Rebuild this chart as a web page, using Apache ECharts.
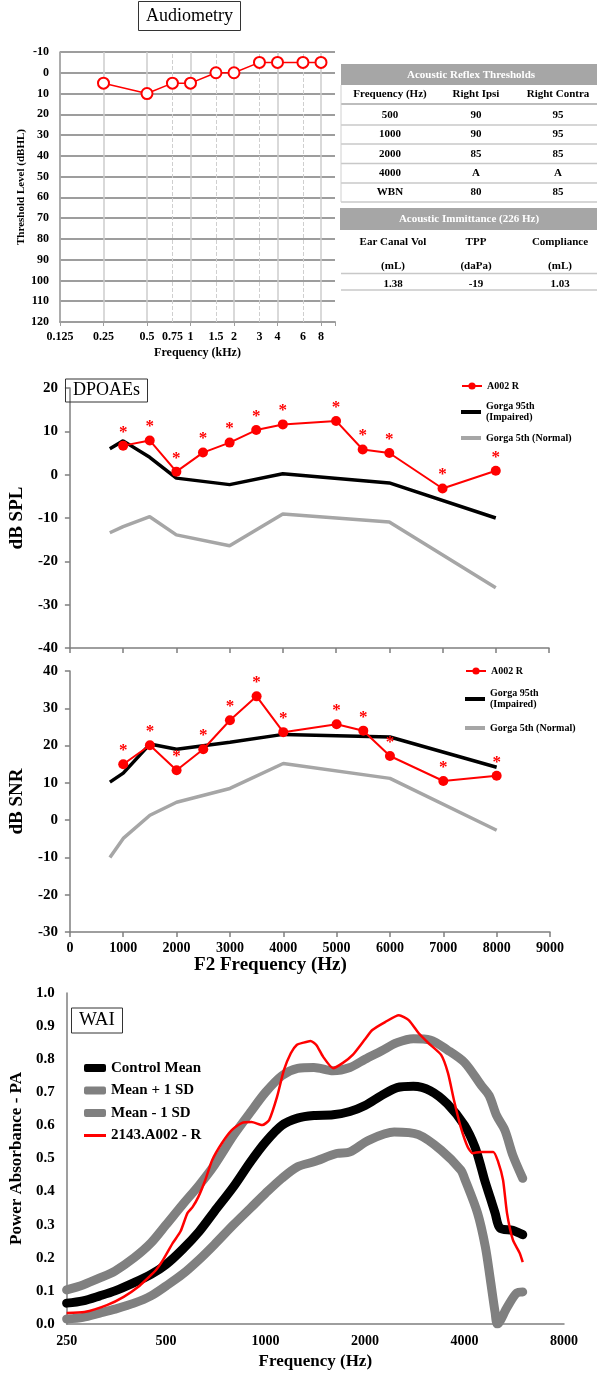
<!DOCTYPE html>
<html>
<head>
<meta charset="utf-8">
<script src="https://cdn.jsdelivr.net/npm/echarts@6/dist/echarts.min.js"></script>
<style>
  html, body { margin: 0; padding: 0; background: #fff; }
  #main { width: 597px; height: 1374px; }
</style>
</head>
<body>
<div id="main"></div>
<script>
const SERIF = '"Liberation Serif", "Times New Roman", serif';

// ---------- Audiometry (right ear, air conduction) ----------
const audioFreqsKHz = [0.25, 0.5, 0.75, 1, 1.5, 2, 3, 4, 6, 8];
const audioThresholds = [5, 10, 5, 5, 0, 0, -5, -5, -5, -5];
const audioOctaveTicks = [0.125, 0.25, 0.5, 1, 2, 4, 8];
const audioMidTicks = [0.75, 1.5, 3, 6];

// ---------- Acoustic reflex / immittance table ----------
const reflexHeader = ['Frequency (Hz)', 'Right Ipsi', 'Right Contra'];
const reflexFreqs = ['500', '1000', '2000', '4000', 'WBN'];
const reflexIpsi = ['90', '90', '85', 'A', '80'];
const reflexContra = ['95', '95', '85', 'A', '85'];
const immHeader = ['Ear Canal Vol', 'TPP', 'Compliance'];
const immUnits = ['(mL)', '(daPa)', '(mL)'];
const immValues = ['1.38', '-19', '1.03'];

// ---------- DPOAEs ----------
const dpFreqs = [1000, 1500, 2000, 2500, 3000, 3500, 4000, 5000, 5500, 6000, 7000, 8000];
const dpLevel = [6.7, 7.9, 0.7, 5.1, 7.4, 10.3, 11.6, 12.4, 5.8, 5.0, -3.2, 0.9];
const dpSnr = [15.0, 20.1, 13.4, 19.0, 26.8, 33.2, 23.6, 25.7, 24.0, 17.2, 10.5, 11.9];
const gorgaFreqs = [750, 1000, 1500, 2000, 3000, 4000, 6000, 8000];
const gorgaLevel95 = [6.0, 7.8, 4.0, -0.8, -2.3, 0.2, -1.9, -10.0];
const gorgaLevel5 = [-13.4, -12.0, -9.7, -13.9, -16.4, -9.1, -10.9, -26.1];
const gorgaSnr95 = [10.2, 12.6, 20.4, 19.0, 20.9, 23.0, 22.3, 14.2];
const gorgaSnr5 = [-10.0, -4.9, 1.3, 4.8, 8.5, 15.2, 11.2, -2.7];

// ---------- Wideband acoustic immittance ----------
const waiMeanFreqs = [250, 280, 315, 350, 400, 450, 500, 560, 630, 700, 800, 900, 1000, 1120, 1250, 1400, 1600, 1800, 2000, 2240, 2500, 2800, 3150, 3550, 4000, 4300, 4500, 4600, 4790, 4950, 5120, 5600, 6000];
const waiMean = [0.063, 0.07, 0.085, 0.10, 0.125, 0.15, 0.18, 0.225, 0.28, 0.34, 0.415, 0.49, 0.55, 0.60, 0.622, 0.63, 0.632, 0.642, 0.66, 0.69, 0.714, 0.718, 0.705, 0.665, 0.60, 0.535, 0.47, 0.435, 0.38, 0.335, 0.29, 0.283, 0.27];
const waiPlusFreqs = [250, 280, 315, 350, 400, 450, 500, 560, 630, 700, 800, 900, 1000, 1120, 1250, 1400, 1600, 1800, 2000, 2240, 2500, 2800, 3150, 3550, 4000, 4500, 4750, 5000, 5300, 5600, 6000];
const waiPlus1SD = [0.103, 0.118, 0.139, 0.16, 0.2, 0.245, 0.3, 0.36, 0.42, 0.48, 0.57, 0.64, 0.70, 0.75, 0.772, 0.775, 0.765, 0.775, 0.80, 0.825, 0.85, 0.862, 0.858, 0.828, 0.79, 0.72, 0.69, 0.63, 0.585, 0.51, 0.44];
const waiMinusFreqs = [250, 280, 315, 350, 400, 450, 500, 560, 630, 700, 800, 900, 1000, 1120, 1250, 1400, 1640, 1800, 2050, 2450, 2900, 3400, 3900, 4000, 4380, 4625, 4790, 4950, 5030, 5380, 5760, 6000];
const waiMinus1SD = [0.015, 0.02, 0.033, 0.045, 0.063, 0.085, 0.115, 0.15, 0.195, 0.24, 0.30, 0.35, 0.395, 0.44, 0.475, 0.49, 0.515, 0.52, 0.555, 0.58, 0.572, 0.525, 0.465, 0.44, 0.335, 0.233, 0.133, 0.035, 0.0, 0.05, 0.094, 0.097];
const waiEarFreqs = [250, 283, 331, 372, 415, 444, 466, 489, 524, 553, 580, 601, 626, 657, 689, 738, 790, 846, 906, 977, 1025, 1083, 1136, 1192, 1242, 1302, 1367, 1424, 1494, 1600, 1714, 1835, 2005, 2104, 2300, 2532, 2711, 2903, 3108, 3398, 3565, 3715, 3896, 4090, 4232, 4470, 4886, 5056, 5231, 5378, 5603, 5877, 6000];
const waiEar = [0.033, 0.036, 0.057, 0.082, 0.115, 0.142, 0.163, 0.193, 0.245, 0.28, 0.335, 0.353, 0.384, 0.435, 0.495, 0.547, 0.586, 0.607, 0.61, 0.601, 0.616, 0.686, 0.767, 0.818, 0.843, 0.85, 0.855, 0.843, 0.807, 0.773, 0.789, 0.813, 0.862, 0.888, 0.912, 0.933, 0.918, 0.879, 0.849, 0.813, 0.758, 0.677, 0.595, 0.535, 0.516, 0.52, 0.52, 0.49, 0.435, 0.335, 0.254, 0.214, 0.187];

const pairs = (xs, ys, scale) => xs.map((x, i) => [x * (scale || 1), ys[i]]);
const boldText = (size) => ({ fontFamily: SERIF, fontWeight: 'bold', fontSize: size, color: '#000' });
const AXIS_GRAY = '#7f7f7f';

// ---------- table drawn with graphic elements ----------
function tableGraphics() {
  const els = [];
  const L = 341, W = 256;
  const text = (x, y, t, size, color) => els.push({
    type: 'text', x: x, y: y, silent: true,
    style: { text: t, fontFamily: SERIF, fontWeight: 'bold', fontSize: size, fill: color || '#000', align: 'center', verticalAlign: 'middle' }
  });
  const hline = (y, w, c) => els.push({
    type: 'line', silent: true,
    shape: { x1: L, y1: y, x2: L + W, y2: y },
    style: { stroke: c || '#c8c8c8', lineWidth: w || 1.5 }
  });
  const cols = [390, 476, 558];
  const cols2 = [393, 476, 560];

  els.push({ type: 'rect', silent: true, shape: { x: L, y: 64, width: W, height: 21 }, style: { fill: '#a6a6a6' } });
  text(471, 75, 'Acoustic Reflex Thresholds', 11, '#fff');
  reflexHeader.forEach((h, i) => text(cols[i], 94.5, h, 11));
  hline(104, 2, '#bdbdbd');
  const rowY = [115.5, 134.5, 154, 173, 192.5];
  const sepY = [125, 144, 163.5, 183, 202];
  reflexFreqs.forEach((f, r) => {
    text(cols[0], rowY[r], f, 11);
    text(cols[1], rowY[r], reflexIpsi[r], 11);
    text(cols[2], rowY[r], reflexContra[r], 11);
    hline(sepY[r], 1.5);
  });
  els.push({ type: 'line', silent: true, shape: { x1: L, y1: 85, x2: L, y2: 202 }, style: { stroke: '#d0d0d0', lineWidth: 1 } });

  els.push({ type: 'rect', silent: true, shape: { x: L - 1, y: 208, width: W + 1, height: 22 }, style: { fill: '#a6a6a6' } });
  text(469, 219, 'Acoustic Immittance (226 Hz)', 11, '#fff');
  immHeader.forEach((h, i) => text(cols2[i], 242, h, 11));
  immUnits.forEach((h, i) => text(cols2[i], 266, h, 11));
  hline(273.5, 1.5);
  immValues.forEach((h, i) => text(cols2[i], 284, h, 11));
  hline(290, 1.5);
  return els;
}

const chart = echarts.init(document.getElementById('main'), null, { renderer: 'canvas' });

// one legend box per entry so every key sits on its own row
function legendItem(name, left, top, extra) {
  return Object.assign({
    orient: 'vertical', padding: 0, itemWidth: 20, itemHeight: 9, selectedMode: false,
    data: [name], left: left, top: top,
    textStyle: { fontFamily: SERIF, fontWeight: 'bold', fontSize: 10, color: '#000', lineHeight: 12 }
  }, extra || {});
}
const barIcon = (h) => ({ icon: 'rect', itemHeight: h });
const twoLine = {
  icon: 'rect', itemHeight: 4,
  formatter: (n) => n.replace(' (', '\n('),
  textStyle: { fontFamily: SERIF, fontWeight: 'bold', fontSize: 10, color: '#000', lineHeight: 11, padding: [11, 0, 0, 0] }
};
function waiLegend(name, centerY, icon, h) {
  return {
    orient: 'vertical', padding: 0, itemWidth: 22, itemHeight: h, icon: icon, selectedMode: false,
    data: [name], left: 84, top: centerY - 9,
    textStyle: { fontFamily: SERIF, fontWeight: 'bold', fontSize: 15, color: '#000', lineHeight: 18 }
  };
}

function dpValueAxisX(grid, withLabels) {
  return {
    type: 'value', gridIndex: grid, min: 0, max: 9000, interval: 1000,
    axisLine: { show: true, onZero: false, lineStyle: { color: AXIS_GRAY, width: 1.5 } },
    axisTick: { show: true, length: 5, lineStyle: { color: AXIS_GRAY, width: 1.5 } },
    axisLabel: Object.assign({ show: withLabels, margin: 9, formatter: (v) => String(v) }, boldText(14)),
    splitLine: { show: false }
  };
}
function dpValueAxisY(grid, min, max, name) {
  return {
    type: 'value', gridIndex: grid, min: min, max: max, interval: 10,
    axisLine: { show: true, lineStyle: { color: AXIS_GRAY, width: 1.5 } },
    axisTick: { show: true, length: 5, lineStyle: { color: AXIS_GRAY, width: 1.5 } },
    axisLabel: Object.assign({ margin: 12 }, boldText(15)),
    splitLine: { show: false },
    name: name, nameLocation: 'middle', nameGap: 36,
    nameTextStyle: boldText(19)
  };
}
function dpSeries(xi, measured, p95, p5) {
  return [
    {
      type: 'line', name: 'Gorga 5th (Normal)', xAxisIndex: xi, yAxisIndex: xi,
      data: pairs(gorgaFreqs, p5), symbol: 'none', z: 2,
      lineStyle: { color: '#a6a6a6', width: 3.5 }, itemStyle: { color: '#a6a6a6' }
    },
    {
      type: 'line', name: 'Gorga 95th (Impaired)', xAxisIndex: xi, yAxisIndex: xi,
      data: pairs(gorgaFreqs, p95), symbol: 'none', z: 3,
      lineStyle: { color: '#000', width: 3.5 }, itemStyle: { color: '#000' }
    },
    {
      type: 'line', name: 'A002 R', xAxisIndex: xi, yAxisIndex: xi,
      data: pairs(dpFreqs, measured), symbol: 'circle', symbolSize: 10, z: 4,
      lineStyle: { color: '#ff0000', width: 2 }, itemStyle: { color: '#ff0000' },
      label: { show: true, position: 'top', distance: 0, formatter: '*', color: '#ff0000', fontSize: 17, fontWeight: 'bold', fontFamily: SERIF }
    }
  ];
}

const option = {
  animation: false,
  backgroundColor: '#fff',
  title: [
    { text: 'Audiometry', left: 138, top: 1, padding: [6, 8], borderColor: '#333', borderWidth: 1,
      textStyle: { fontFamily: SERIF, fontWeight: 'normal', fontSize: 18, lineHeight: 18, color: '#000' } },
    { text: 'DPOAEs', left: 65, top: 379, padding: [2.5, 8], borderColor: '#333', borderWidth: 1,
      textStyle: { fontFamily: SERIF, fontWeight: 'normal', fontSize: 18, lineHeight: 18, color: '#000' } },
    { text: 'WAI', left: 71, top: 1008, padding: [3.5, 8], borderColor: '#333', borderWidth: 1,
      textStyle: { fontFamily: SERIF, fontWeight: 'normal', fontSize: 19, lineHeight: 18, color: '#000' } }
  ],
  legend: [
    legendItem('A002 R', 461, 380),
    legendItem('Gorga 95th (Impaired)', 461, 395.5, twoLine),
    legendItem('Gorga 5th (Normal)', 461, 432, barIcon(4)),
    legendItem('A002 R', 465, 665),
    legendItem('Gorga 95th (Impaired)', 465, 682.5, twoLine),
    legendItem('Gorga 5th (Normal)', 465, 722, barIcon(4)),
    waiLegend('Control Mean', 1068, 'roundRect', 8),
    waiLegend('Mean + 1 SD', 1090.5, 'roundRect', 8),
    waiLegend('Mean - 1 SD', 1113, 'roundRect', 8),
    waiLegend('2143.A002 - R', 1135.5, 'rect', 3)
  ],
  grid: [
    { left: 60, top: 52, width: 275, height: 270 },
    { left: 59, top: 388, width: 490, height: 260 },
    { left: 57, top: 671, width: 493, height: 261 },
    { left: 59, top: 993, width: 505, height: 331 }
  ],
  xAxis: [
    {
      type: 'log', logBase: 2, gridIndex: 0, min: 0.125, max: 10,
      axisLine: { show: true, onZero: false, lineStyle: { color: '#9d9d9d', width: 2 } },
      axisTick: { show: true, length: 4, lineStyle: { color: '#9d9d9d', width: 1 } },
      axisLabel: Object.assign({ margin: 9, formatter: (v) => audioOctaveTicks.some(t => Math.abs(t - v) < 1e-6) ? String(v) : '' }, boldText(12)),
      splitLine: { show: true, showMaxLine: false, lineStyle: { color: '#cdcdcd', width: 1.5 } },
      name: 'Frequency (kHz)', nameLocation: 'middle', nameGap: 25, nameTextStyle: boldText(12)
    },
    dpValueAxisX(1, false),
    Object.assign(dpValueAxisX(2, true), {
      name: 'F2 Frequency (Hz)', nameLocation: 'middle', nameGap: 22,
      nameTextStyle: Object.assign({ padding: [0, 79, 0, 0] }, boldText(19))
    }),
    {
      type: 'log', logBase: 2, gridIndex: 3, min: 0.25, max: 8,
      axisLine: { show: true, onZero: false, lineStyle: { color: AXIS_GRAY, width: 1.5 } },
      axisTick: { show: false },
      axisLabel: Object.assign({ margin: 10, formatter: (v) => String(Math.round(v * 1000)) }, boldText(14)),
      splitLine: { show: false },
      name: 'Frequency (Hz)', nameLocation: 'middle', nameGap: 29, nameTextStyle: boldText(17)
    }
  ],
  yAxis: [
    {
      type: 'value', gridIndex: 0, inverse: true, min: -10, max: 120, interval: 10,
      axisLine: { show: true, lineStyle: { color: '#9d9d9d', width: 1.5 } },
      axisTick: { show: false },
      axisLabel: Object.assign({ margin: 11 }, boldText(12)),
      splitLine: { show: true, lineStyle: { color: '#9d9d9d', width: 2 } },
      name: 'Threshold Level (dBHL)', nameLocation: 'middle', nameGap: 33, nameTextStyle: boldText(11)
    },
    dpValueAxisY(1, -40, 20, 'dB SPL'),
    dpValueAxisY(2, -30, 40, 'dB SNR'),
    {
      type: 'value', gridIndex: 3, min: 0, max: 1, interval: 0.1,
      axisLine: { show: true, lineStyle: { color: AXIS_GRAY, width: 1.5 } },
      axisTick: { show: false },
      axisLabel: Object.assign({ margin: 12, formatter: (v) => v.toFixed(1) }, boldText(15)),
      splitLine: { show: false },
      name: 'Power Absorbance - PA', nameLocation: 'middle', nameGap: 36, nameTextStyle: boldText(17)
    }
  ],
  series: [
    {
      type: 'line', name: 'Right ear', xAxisIndex: 0, yAxisIndex: 0, z: 3,
      data: pairs(audioFreqsKHz, audioThresholds),
      symbol: 'emptyCircle', symbolSize: 11,
      lineStyle: { color: '#ff0000', width: 1.5 },
      itemStyle: { color: '#ff0000', borderWidth: 1.3 },
      markLine: {
        silent: true, z: 1, symbol: ['none', 'none'], animation: false,
        lineStyle: { color: '#cfcfcf', type: 'dashed', width: 1 },
        label: Object.assign({ show: true, position: 'start', distance: 9, formatter: (p) => p.name }, boldText(12)),
        emphasis: { disabled: true },
        data: audioMidTicks.map(f => [{ coord: [f, 120], name: String(f) }, { coord: [f, -10] }])
      }
    },
    ...dpSeries(1, dpLevel, gorgaLevel95, gorgaLevel5),
    ...dpSeries(2, dpSnr, gorgaSnr95, gorgaSnr5),
    {
      type: 'line', name: 'Mean + 1 SD', xAxisIndex: 3, yAxisIndex: 3, z: 2,
      data: pairs(waiPlusFreqs, waiPlus1SD, 0.001), symbol: 'none', smooth: 0.3,
      lineStyle: { color: '#808080', width: 9, cap: 'round', join: 'round' }, itemStyle: { color: '#808080' }
    },
    {
      type: 'line', name: 'Mean - 1 SD', xAxisIndex: 3, yAxisIndex: 3, z: 2,
      data: pairs(waiMinusFreqs, waiMinus1SD, 0.001), symbol: 'none', smooth: 0.3,
      lineStyle: { color: '#808080', width: 9, cap: 'round', join: 'round' }, itemStyle: { color: '#808080' }
    },
    {
      type: 'line', name: 'Control Mean', xAxisIndex: 3, yAxisIndex: 3, z: 3,
      data: pairs(waiMeanFreqs, waiMean, 0.001), symbol: 'none', smooth: 0.3,
      lineStyle: { color: '#000', width: 9, cap: 'round', join: 'round' }, itemStyle: { color: '#000' }
    },
    {
      type: 'line', name: '2143.A002 - R', xAxisIndex: 3, yAxisIndex: 3, z: 4,
      data: pairs(waiEarFreqs, waiEar, 0.001), symbol: 'none', smooth: 0.2,
      lineStyle: { color: '#ff0000', width: 2.5, join: 'round' }, itemStyle: { color: '#ff0000' }
    }
  ],
  graphic: tableGraphics()
};

chart.setOption(option);
</script>
</body>
</html>
